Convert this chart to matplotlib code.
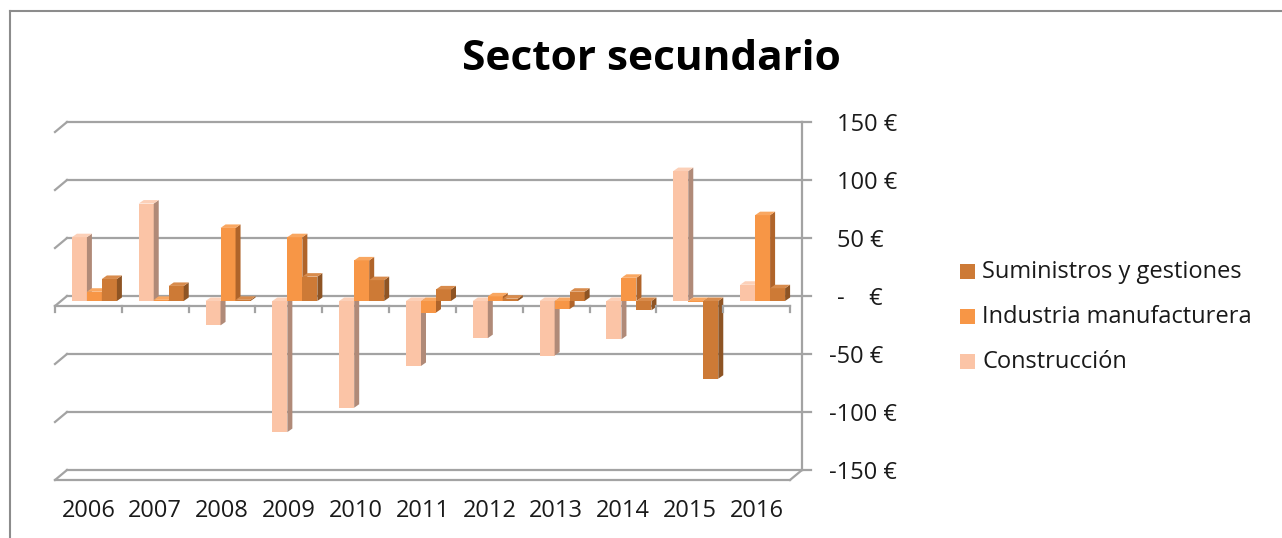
import matplotlib
matplotlib.use('Agg')
import matplotlib.pyplot as plt
from matplotlib.patches import Polygon, Rectangle
from matplotlib.lines import Line2D
from matplotlib.transforms import offset_copy

# Data (euros)
years = ['2006', '2007', '2008', '2009', '2010', '2011', '2012', '2013', '2014', '2015', '2016']
construccion = [55, 84, -21, -113, -92, -56, -32, -47, -33, 112, 14]
industria = [8, 1, 63, 55, 35, -10, 4, -7, 20, -1, 74]
suministros = [19, 13, 1, 21, 18, 10, 2, 8, -8, -67, 11]
series_names = ['Construcción', 'Industria manufacturera', 'Suministros y gestiones']
y_ticks = [-150, -100, -50, 0, 50, 100, 150]

front_colors = ['#fbc4a6', '#f79646', '#cd7a36']
side_colors = ['#b08a78', '#b0642a', '#8e5424']
top_colors = ['#fcd0b8', '#f9a761', '#d88b4c']
grid_col = '#a3a3a3'

plt.rcParams['font.family'] = ['Open Sans', 'DejaVu Sans']

W, H = 1282, 538
fig = plt.figure(figsize=(W / 100, H / 100), dpi=100)
# axes = plane of the bars
ax = fig.add_axes([61 / W, 63 / H, 735 / W, 348 / H])
ax.set_xlim(0, len(years))
ax.set_ylim(-150, 150)
ax.axis('off')

back = offset_copy(ax.transData, fig=fig, x=6, y=5, units='dots')
front = offset_copy(ax.transData, fig=fig, x=-6, y=-5, units='dots')
n = len(years)
to_fig = fig.transFigure.inverted()

# back wall gridlines + left edge diagonals + right wall ticks
for v in y_ticks:
    ax.plot([0, n], [v, v], color=grid_col, lw=1.6, transform=back, clip_on=False, zorder=1)
    x0f, y0f = to_fig.transform(front.transform((0, v)))
    x0b, y0b = to_fig.transform(back.transform((0, v)))
    fig.add_artist(Line2D([x0f, x0b], [y0f, y0b], color=grid_col, lw=1.6, zorder=1))
    tr = offset_copy(back, fig=fig, x=9, y=0, units='dots')
    xa, ya = to_fig.transform(back.transform((n, v)))
    xb, yb = to_fig.transform(tr.transform((n, v)))
    fig.add_artist(Line2D([xa, xb], [ya, yb], color=grid_col, lw=1.6, zorder=1))
    if v == 0:
        label = '-    €'
    else:
        label = f'{v} €'
    lab_tr = offset_copy(back, fig=fig, x=35 if v >= 0 else 27, y=-3, units='dots')
    ax.text(n, v, label, transform=lab_tr, ha='left', va='center', fontsize=17,
            color='#1a1a1a', clip_on=False)

# right wall
ax.plot([n, n], [-150, 150], color=grid_col, lw=1.6, transform=back, clip_on=False, zorder=1)

# floor (front edge + right diagonal)
ax.plot([0, n], [-150, -150], color=grid_col, lw=1.6, transform=front, clip_on=False, zorder=1)
xa, ya = to_fig.transform(front.transform((n, -150)))
xb, yb = to_fig.transform(back.transform((n, -150)))
fig.add_artist(Line2D([xa, xb], [ya, yb], color=grid_col, lw=1.6, zorder=1))

# front category axis at zero with tick marks
ax.plot([0, n], [0, 0], color=grid_col, lw=1.6, transform=front, clip_on=False, zorder=2)
tick_tr = offset_copy(front, fig=fig, x=0, y=-6, units='dots')
for i in range(n + 1):
    xa, ya = to_fig.transform(front.transform((i, 0)))
    xb, yb = to_fig.transform(tick_tr.transform((i, 0)))
    fig.add_artist(Line2D([xa, xb], [ya, yb], color=grid_col, lw=1.6, zorder=2))

# year labels
lab_tr = offset_copy(front, fig=fig, x=0, y=-31, units='dots')
for i, yr in enumerate(years):
    ax.text(i + 0.5, -150, yr, transform=lab_tr, ha='center', va='center',
            fontsize=17, color='#1a1a1a', clip_on=False)

# pseudo-3D bars
kx = 735 / n
ky = 348 / 300
dx, dy = 5 / kx, 3.5 / ky
bw = 15 / kx
for i in range(n):
    for k, vals in enumerate([construccion, industria, suministros]):
        v = vals[i]
        x0 = i + 0.5 + (k - 1.5) * bw
        x1 = x0 + bw
        lo, hi = min(v, 0), max(v, 0)
        ax.add_patch(Rectangle((x0, lo), bw, hi - lo, facecolor=front_colors[k],
                               edgecolor='none', clip_on=False, zorder=3))
        ax.add_patch(Polygon([(x1, lo), (x1, hi), (x1 + dx, hi + dy), (x1 + dx, lo + dy)],
                             facecolor=side_colors[k], edgecolor='none', clip_on=False, zorder=3))
        ax.add_patch(Polygon([(x0, hi), (x1, hi), (x1 + dx, hi + dy), (x0 + dx, hi + dy)],
                             facecolor=top_colors[k], edgecolor='none', clip_on=False, zorder=3))

# legend
for j, k in enumerate([2, 1, 0]):
    yc = 271 + 45 * j
    fig.add_artist(Rectangle((960 / W, 1 - (yc + 7.5) / H), 15 / W, 15 / H,
                             transform=fig.transFigure, facecolor=front_colors[k], edgecolor='none'))
    fig.text(982 / W, 1 - (yc + 1) / H, series_names[k], ha='left', va='center',
             fontsize=17, color='#1a1a1a')

# title
fig.text(651 / W, 1 - 60 / H, 'Sector secundario', ha='center', va='center',
         fontsize=30.5, fontweight='bold', color='black')

# chart border (left and top edges visible)
fig.add_artist(Line2D([10 / W, 10 / W], [0, 1 - 11 / H], color='#8c8c8c', lw=1.5))
fig.add_artist(Line2D([10 / W, 1], [1 - 11 / H, 1 - 11 / H], color='#8c8c8c', lw=1.5))

fig.savefig('out.png', dpi=100)
